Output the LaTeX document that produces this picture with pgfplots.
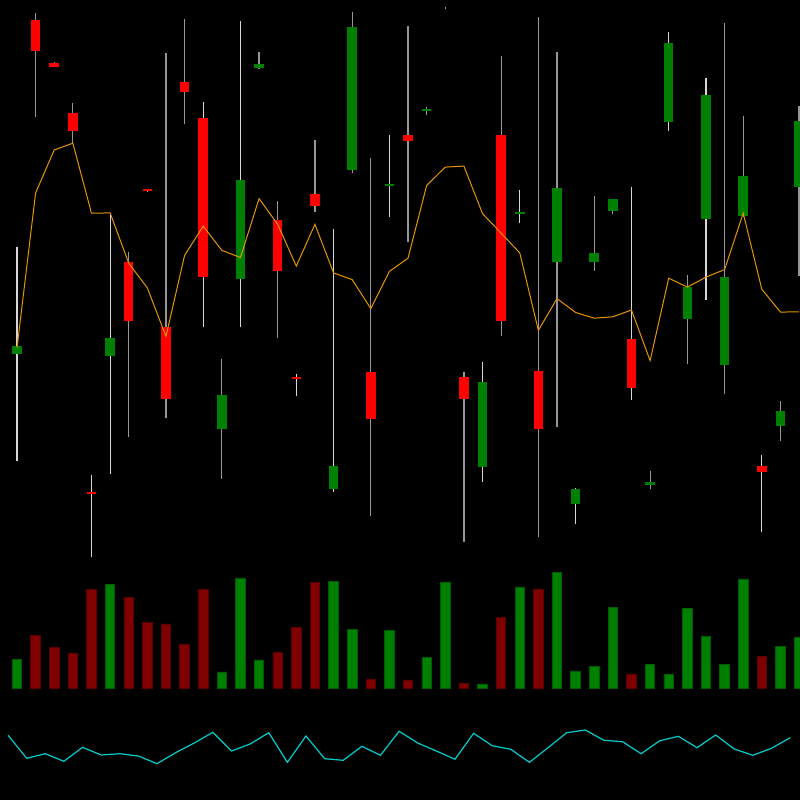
\documentclass[border=0pt]{standalone}
\usepackage{pgfplots}
\usepackage{pgfplotstable}
\pgfplotsset{compat=1.18}
\definecolor{upgreen}{RGB}{0,128,0}
\definecolor{dnred}{RGB}{255,0,0}
\definecolor{volred}{RGB}{128,0,0}
\definecolor{wickwhite}{RGB}{215,215,215}
\definecolor{wickgray}{RGB}{150,150,150}
\definecolor{maorange}{RGB}{230,150,0}
\definecolor{cyanline}{RGB}{0,205,205}

% All price values are pixel rows from the top of the chart.
% rising candles: o=open, c=close
\pgfplotstableread{
i o c
0 353.6 346.4
5 356.4 337.9
11 428.9 395
12 278.9 180.4
13 67.9 63.9
17 488.6 466.4
18 170.4 26.8
20 186.5 184
22 111 109
25 467.1 382.5
27 214 212.5
29 262.5 187.9
30 503.6 489.3
31 261.8 253.2
32 210.7 199.3
34 485 481.8
35 122.1 42.9
36 319.3 287.1
37 218.9 94.6
38 365.4 277.1
39 216.1 176.1
41 425.7 411.1
42 186.8 121.4
}\upbody

% falling candles
\pgfplotstableread{
i o c
1 19.6 51.1
2 63.2 66.8
3 113.2 131.4
4 492 494
6 261.8 320.7
7 189.5 191.5
8 327 399
9 82.5 91.8
10 118.2 277.1
14 220 271
15 377 379.5
16 193.9 206
19 371.8 418.9
21 135 140.7
24 377.1 398.9
26 135.4 321.1
28 371.4 429.3
33 338.9 387.9
40 466.1 472.5
}\dnbody

% wicks drawn light (h=high, l=low)
\pgfplotstableread{
i h l
0 247.5 461.4
4 475 557
5 212.9 474.3
7 188.8 192.2
10 102.5 327.5
12 21.4 326.8
15 374 395.7
17 228.6 491.8
20 135 217.5
25 362.5 482
27 190.4 223.2
30 488 524.3
33 187.1 399.6
35 32.5 130.7
37 77.9 299.6
40 455.4 532.1
}\wickW

% wicks drawn grey
\pgfplotstableread{
i h l
1 12.9 116.8
2 61.8 67.5
3 103.2 142.9
6 252 437
8 53.2 418.2
9 18.6 123.6
11 359 479.3
13 52.1 68.6
14 201 337.9
16 139.6 211.8
18 12.1 172.9
19 158.2 515.7
21 25.7 241.8
22 107.5 114.6
23 7.3 8.7
24 372 542.5
26 55.7 335.7
28 17.1 536.8
29 52.5 426.8
31 195.7 270.7
32 198.6 214.3
34 471 488.6
36 275 363.6
38 22.9 393.9
39 116.1 216.8
41 401.4 441.1
42 106.4 275.7
}\wickG

% volume (bar height in px above the baseline)
\pgfplotstableread{
i v
0 28.3
5 103.7
11 16
12 110
13 28
17 106.3
18 58.7
20 57.3
22 30.7
23 106
25 4
27 101
29 115.7
30 17
31 21.7
32 80.7
34 23.3
35 14
36 79.3
37 51.3
38 23.7
39 109
41 41.3
42 51
}\volup

\pgfplotstableread{
i v
1 52.3
2 40.3
3 35
4 98.3
6 90.7
7 65.3
8 64
9 43.3
10 98.3
14 35.7
15 61
16 105.7
19 9
21 8
24 5
26 70.3
28 99
33 14
40 31.7
}\voldn

\pgfplotstableread{
i y
0 348
1 192.9
2 150
3 143.2
4 213.2
5 212.9
6 263.2
7 287.9
8 336.4
9 255.4
10 226.1
11 250.4
12 257.5
13 198.6
14 224.3
15 266.1
16 224.3
17 272.9
18 279.6
19 308.6
20 271.4
21 258.2
22 185.4
23 167.1
24 166.1
25 213.6
26 233.2
27 252.9
28 330.4
29 298.6
30 312.5
31 318.2
32 316.8
33 310
34 360.7
35 278.2
36 287.1
37 277.1
38 269.6
39 213.2
40 289.3
41 312.1
42 311.8
}\ma

\pgfplotstableread{
i y
0 735.3
1 758.3
2 753.7
3 761.3
4 747.3
5 755
6 753.7
7 756
8 763.7
9 752.7
10 743
11 732.3
12 751
13 744
14 732.7
15 762.3
16 736
17 758.7
18 760.3
19 746.3
20 755.3
21 731.3
22 743
23 751
24 759.3
25 733.3
26 745.7
27 749.3
28 762.3
29 747.7
30 732.7
31 730
32 740.3
33 741.7
34 753.7
35 740.7
36 736.3
37 747.7
38 735
39 749
40 755.3
41 748.3
42 737.7
}\osc

\pgfplotsset{
  panel/.style={scale only axis, width=800bp, height=800bp,
    xmin=-0.913, xmax=42.05, axis line style={draw=none},
    xtick=\empty, ytick=\empty, clip=true},
}

\begin{document}
\begin{tikzpicture}
\begin{axis}[panel, ymin=0, ymax=800, y dir=reverse,
  axis background/.style={fill=black}]
  % wicks: from high to low
  \addplot[mark=none, draw=wickwhite, line width=1.2bp,
    quiver={u=0, v=\thisrow{l}-\thisrow{h}}]
    table[x=i, y=h] {\wickW};
  \addplot[mark=none, draw=wickgray, line width=1.2bp,
    quiver={u=0, v=\thisrow{l}-\thisrow{h}}]
    table[x=i, y=h] {\wickG};
  % bodies: from open to close
  \addplot[mark=none, draw=upgreen, line width=9.5bp,
    quiver={u=0, v=\thisrow{c}-\thisrow{o}}]
    table[x=i, y=o] {\upbody};
  \addplot[mark=none, draw=dnred, line width=9.5bp,
    quiver={u=0, v=\thisrow{c}-\thisrow{o}}]
    table[x=i, y=o] {\dnbody};
  % moving average
  \addplot[maorange, line width=1bp, mark=none] table[x=i, y=y] {\ma};
  % oscillator
  \addplot[cyanline, line width=1.2bp, mark=none]
    table[x expr={\thisrow{i}-0.48}, y=y] {\osc};
\end{axis}
\begin{axis}[panel, ymin=-112, ymax=688]
  \addplot[ybar, bar width=0.51, bar shift=0pt, fill=upgreen,
    draw=upgreen!70!black, line width=0.8bp]
    table[x=i, y=v] {\volup};
  \addplot[ybar, bar width=0.51, bar shift=0pt, fill=volred,
    draw=volred!70!black, line width=0.8bp]
    table[x=i, y=v] {\voldn};
\end{axis}
\end{tikzpicture}
\end{document}
